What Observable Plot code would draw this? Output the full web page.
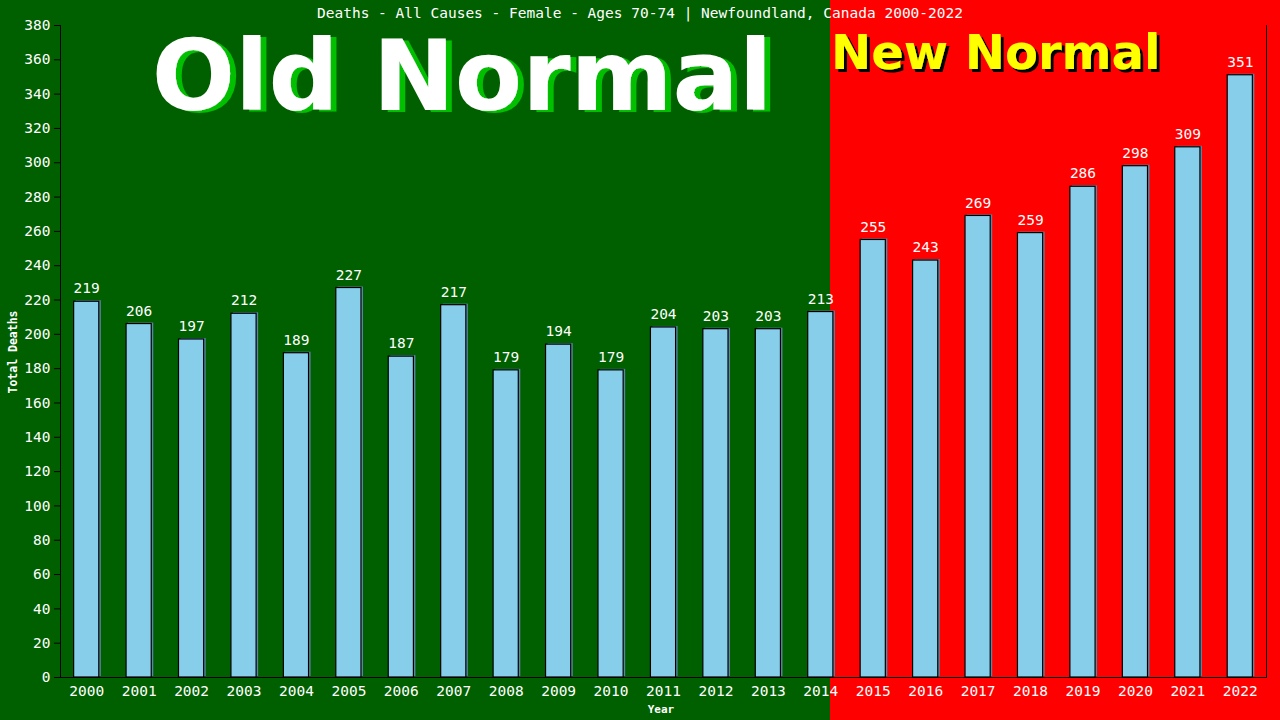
<!DOCTYPE html>
<html>
<head>
<meta charset="utf-8">
<script src="https://cdn.jsdelivr.net/npm/d3@7"></script>
<script src="https://cdn.jsdelivr.net/npm/@observablehq/plot@0.6"></script>
<style>
  html, body { margin: 0; padding: 0; }
  body { width: 1280px; height: 720px; overflow: hidden;
         background: linear-gradient(to right, #006000 0px, #006000 830px, #ff0000 830px, #ff0000 1280px); }
  #wrap { position: relative; width: 1280px; height: 720px; }
  #chart, #overlay { position: absolute; left: 0; top: 0; }
</style>
</head>
<body>
<div id="wrap">
  <div id="chart"></div>
  <svg id="overlay" width="1280" height="720">
    <defs>
      <filter id="shGreen" x="-10%" y="-20%" width="120%" height="140%">
        <feFlood flood-color="#00c000"/>
        <feComposite in2="SourceAlpha" operator="in"/>
        <feOffset dx="6" dy="2" result="s"/>
        <feMerge><feMergeNode in="s"/><feMergeNode in="SourceGraphic"/></feMerge>
      </filter>
      <filter id="shBlack" x="-10%" y="-20%" width="120%" height="140%">
        <feFlood flood-color="#000000"/>
        <feComposite in2="SourceAlpha" operator="in"/>
        <feOffset dx="3" dy="3" result="s"/>
        <feMerge><feMergeNode in="s"/><feMergeNode in="SourceGraphic"/></feMerge>
      </filter>
    </defs>
  </svg>
</div>
<script>
const years = ["2000","2001","2002","2003","2004","2005","2006","2007","2008","2009","2010","2011","2012","2013","2014","2015","2016","2017","2018","2019","2020","2021","2022"];
const deaths = [219,206,197,212,189,227,187,217,179,194,179,204,203,203,213,255,243,269,259,286,298,309,351];
const yTicks = [0,20,40,60,80,100,120,140,160,180,200,220,240,260,280,300,320,340,360,380];
const titleText = "Deaths - All Causes - Female - Ages 70-74 | Newfoundland, Canada 2000-2022";
const yLabel = "Total Deaths";
const xLabel = "Year";
const oldLabel = "Old Normal";
const newLabel = "New Normal";

const data = years.map((y, i) => ({year: y, deaths: deaths[i]}));
const mono = "'DejaVu Sans Mono', monospace";

const chart = Plot.plot({
  width: 1280,
  height: 720,
  marginLeft: 60,
  marginRight: 14,
  marginTop: 25,
  marginBottom: 43,
  style: {background: "transparent", color: "white", fontFamily: mono, fontSize: "14.5px"},
  x: {type: "band", domain: years, paddingInner: 0.52, paddingOuter: 0.26, round: false, label: null},
  y: {domain: [0, 380], label: null},
  marks: [
    Plot.barY(data, {x: "year", y: "deaths", fill: "#5a86a4", dx: 2, dy: -1}),
    Plot.barY(data, {x: "year", y: "deaths", fill: "#87ceeb", stroke: "black", strokeWidth: 1.2}),
    Plot.text(data, {x: "year", y: "deaths", text: d => String(d.deaths), dy: -13, fill: "white", fontSize: 14.5}),
    Plot.axisY({ticks: yTicks, tickSize: 6, tickPadding: 4, stroke: "black", fill: "white", label: null, fontSize: 14.5}),
    Plot.axisX({tickSize: 0, tickPadding: 8, fill: "white", label: null, fontSize: 14.5}),
    Plot.frame({anchor: "left", stroke: "black"}),
    Plot.frame({anchor: "bottom", stroke: "black"}),
    Plot.frame({anchor: "right", stroke: "black"})
  ]
});
document.getElementById("chart").appendChild(chart);

const ov = d3.select("#overlay");
ov.append("text").attr("x", 640).attr("y", 18).attr("text-anchor", "middle")
  .attr("fill", "white").attr("font-family", mono).attr("font-size", 14.5).text(titleText);

ov.append("text").attr("transform", "translate(17,352) rotate(-90)").attr("text-anchor", "middle")
  .attr("fill", "white").attr("font-family", mono).attr("font-weight", "bold").attr("font-size", 11.5).text(yLabel);

ov.append("text").attr("x", 661).attr("y", 713).attr("text-anchor", "middle")
  .attr("fill", "white").attr("font-family", mono).attr("font-weight", "bold").attr("font-size", 11).text(xLabel);

const bold = "'DejaVu Sans', Verdana, sans-serif";
ov.append("text").attr("x", 462).attr("y", 110).attr("text-anchor", "middle")
  .attr("filter", "url(#shGreen)")
  .attr("fill", "white").attr("font-family", bold).attr("font-weight", "bold").attr("font-size", 98).text(oldLabel);

ov.append("text").attr("x", 831).attr("y", 69)
  .attr("filter", "url(#shBlack)")
  .attr("fill", "#ffff00").attr("font-family", bold).attr("font-weight", "bold").attr("font-size", 48).text(newLabel);
</script>
</body>
</html>
